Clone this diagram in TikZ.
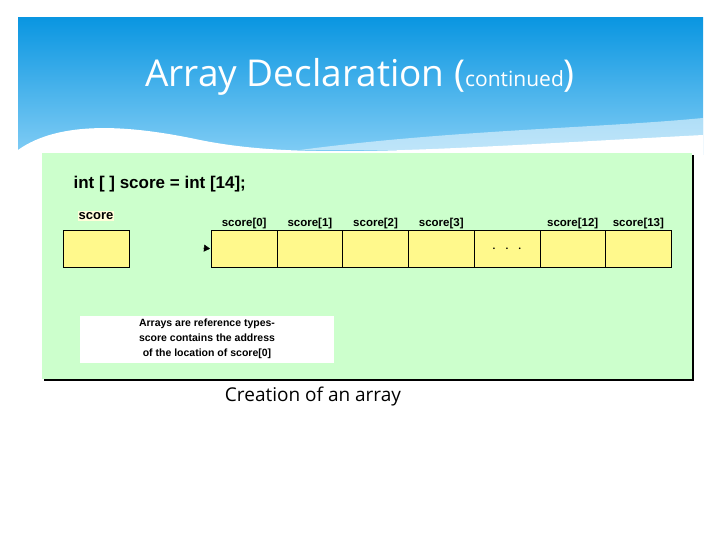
\documentclass[tikz,border=0pt]{standalone}
\usepackage{fontspec}
\setmainfont{Open Sans}
\setsansfont{Liberation Sans}
\usetikzlibrary{arrows.meta}
\begin{document}
\begin{tikzpicture}[
    x=1pt,
    y=-1pt,
    cell/.style={
        draw,
        fill=yellow!45,
        minimum width=66pt,
        minimum height=37pt,
        inner sep=0pt,
        anchor=north west
    },
    idx/.style={
        font=\sffamily\bfseries\fontsize{11.5}{12}\selectfont,
        anchor=base
    }
]

% =====================
% Page and header
% =====================
\useasboundingbox (0,0) rectangle (720,540);
\fill[white] (0,0) rectangle (720,540);
\shade[top color={rgb,255:red,10;green,150;blue,225}, bottom color={rgb,255:red,130;green,205;blue,245}]
    (18,18) rectangle (703,155);
\fill[white] (18,150) .. controls (60,120) and (130,125) .. (200,140)
    .. controls (300,160) and (420,150) .. (703,135) -- (703,160) -- (18,160) -- cycle;
\fill[white, opacity=0.5] (300,150) .. controls (450,130) and (600,128) .. (703,118) -- (703,150) -- cycle;
\node (title) at (360,77) {\fontsize{37}{40}\selectfont\color{white}Array Declaration (\fontsize{21}{24}\selectfont continued\fontsize{37}{40}\selectfont)};

% =====================
% Panel
% =====================
\fill[black] (44,155) rectangle (694,381);
\fill[green!20] (42,153) rectangle (692,379);
\node[anchor=west, font=\sffamily\bfseries\fontsize{17}{19}\selectfont] (decl) at (70,184) {int [ ] score = int [14];};

% =====================
% Reference variable
% =====================
\node[fill=yellow!15, font=\sffamily\bfseries\fontsize{13}{14}\selectfont, inner sep=1pt] (reflabel) at (96,216) {score};
\node[cell] (ref) at (63,230) {};

% =====================
% Array cells
% =====================
\foreach \i/\lbl in {0/score[0], 1/score[1], 2/score[2], 3/score[3], 4/, 5/score[12], 6/score[13]} {
    \node[cell] (c\i) at (211+65.7*\i,230) {};
    \node[idx] (l\i) at ([yshift=4pt]c\i.north) {\lbl};
}
\fill[green!20] (671.5,229) rectangle (675,268);
\node[font=\bfseries] (dots) at ([yshift=0pt]c4.center) {.\hspace{10pt}.\hspace{10pt}.};
\coordinate (tail) at (203,248);
\draw[-{Triangle[length=6pt,width=7pt]}] (tail) -- ([xshift=-1pt]c0.west);

% =====================
% Note and caption
% =====================
\node[fill=white, minimum width=254pt, minimum height=47pt, align=center,
      font=\sffamily\bfseries\fontsize{10.5}{15}\selectfont] (note) at (207,339)
    {Arrays are reference types-\\score contains the address\\of the location of score[0]};
\node[font=\fontsize{19}{22}\selectfont] (caption) at (313,397) {Creation of an array};

\end{tikzpicture}
\end{document}
